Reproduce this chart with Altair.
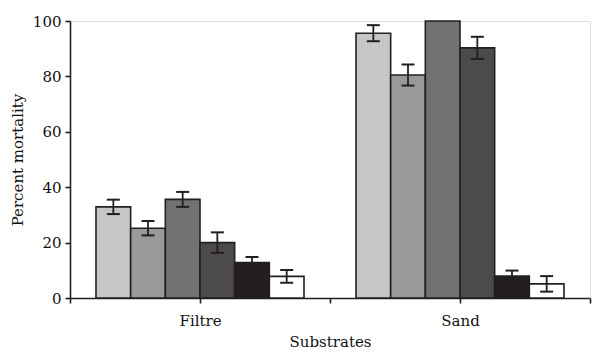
import altair as alt
import pandas as pd

substrates = ["Filtre", "Sand"]
treatments = ["T1", "T2", "T3", "T4", "T5", "T6"]
colors = ["#c6c6c6", "#999999", "#737273", "#4d4a4a", "#231f1e", "#ffffff"]
filtre_vals = [32.9, 25.2, 35.6, 20.0, 12.8, 7.8]
filtre_err = [2.6, 2.6, 2.7, 3.7, 2.0, 2.3]
sand_vals = [95.6, 80.5, 100.0, 90.3, 7.9, 5.1]
sand_err = [2.9, 3.8, 0.0, 4.0, 2.0, 2.8]

rows = []
for si, (vals, errs) in enumerate([(filtre_vals, filtre_err), (sand_vals, sand_err)]):
    for ti, (v, e) in enumerate(zip(vals, errs)):
        rows.append({"substrate": substrates[si], "si": si, "treatment": treatments[ti],
                     "ti": ti, "value": v, "err": e})
df = pd.DataFrame(rows)

FONT = "DejaVu Serif"
INK = "#231f20"

base = alt.Chart(df).transform_calculate(
    x0="datum.si + 0.1 + datum.ti * 0.8 / 6",
    x1="datum.si + 0.1 + (datum.ti + 1) * 0.8 / 6",
    xc="datum.si + 0.1 + (datum.ti + 0.5) * 0.8 / 6",
    lo="datum.value - datum.err",
    hi="datum.value + datum.err",
)

xscale = alt.Scale(domain=[0, 2], nice=False, zero=False)
yscale = alt.Scale(domain=[0, 100], nice=False)

xaxis = alt.Axis(
    values=[0, 0.5, 1, 1.5, 2],
    labelExpr="datum.value == 0.5 ? 'Filtre' : (datum.value == 1.5 ? 'Sand' : '')",
    title="Substrates", grid=False, tickSize=5, labelPadding=10, titlePadding=6,
    domainColor=INK, tickColor=INK, domainWidth=1.6, tickWidth=1.6,
    labelFont=FONT, titleFont=FONT, labelFontSize=15, titleFontSize=15,
    labelColor="#111", titleColor="#111", titleFontWeight="normal",
)
yaxis = alt.Axis(
    values=[0, 20, 40, 60, 80, 100], title="Percent mortality", grid=False,
    tickSize=5, labelPadding=4, titlePadding=7,
    domainColor=INK, tickColor=INK, domainWidth=1.6, tickWidth=1.6,
    labelFont=FONT, titleFont=FONT, labelFontSize=15, titleFontSize=15,
    labelColor="#111", titleColor="#111", titleFontWeight="normal",
)

bars = base.mark_rect(stroke=INK, strokeWidth=1.6).encode(
    x=alt.X("x0:Q", scale=xscale, axis=xaxis),
    x2="x1:Q",
    y=alt.Y("value:Q", scale=yscale, axis=yaxis),
    y2=alt.datum(0),
    fill=alt.Color("treatment:N", scale=alt.Scale(domain=treatments, range=colors), legend=None),
)

err = base.transform_filter("datum.err > 0")
stems = err.mark_rule(color=INK, strokeWidth=1.8).encode(
    x="xc:Q", y="lo:Q", y2="hi:Q")
cap_hi = err.mark_tick(color=INK, thickness=2, size=13, orient="horizontal", opacity=1).encode(
    x="xc:Q", y="hi:Q")
cap_lo = err.mark_tick(color=INK, thickness=2, size=13, orient="horizontal", opacity=1).encode(
    x="xc:Q", y="lo:Q")

chart = alt.layer(bars, stems, cap_hi, cap_lo).properties(
    width=520, height=277,
    autosize=alt.AutoSizeParams(type="none"),
    padding={"left": 70, "top": 21, "right": 4, "bottom": 54},
).configure_view(stroke=None).configure(background="white")

chart.save("out.html", embed_options={"renderer": "svg", "actions": False})
